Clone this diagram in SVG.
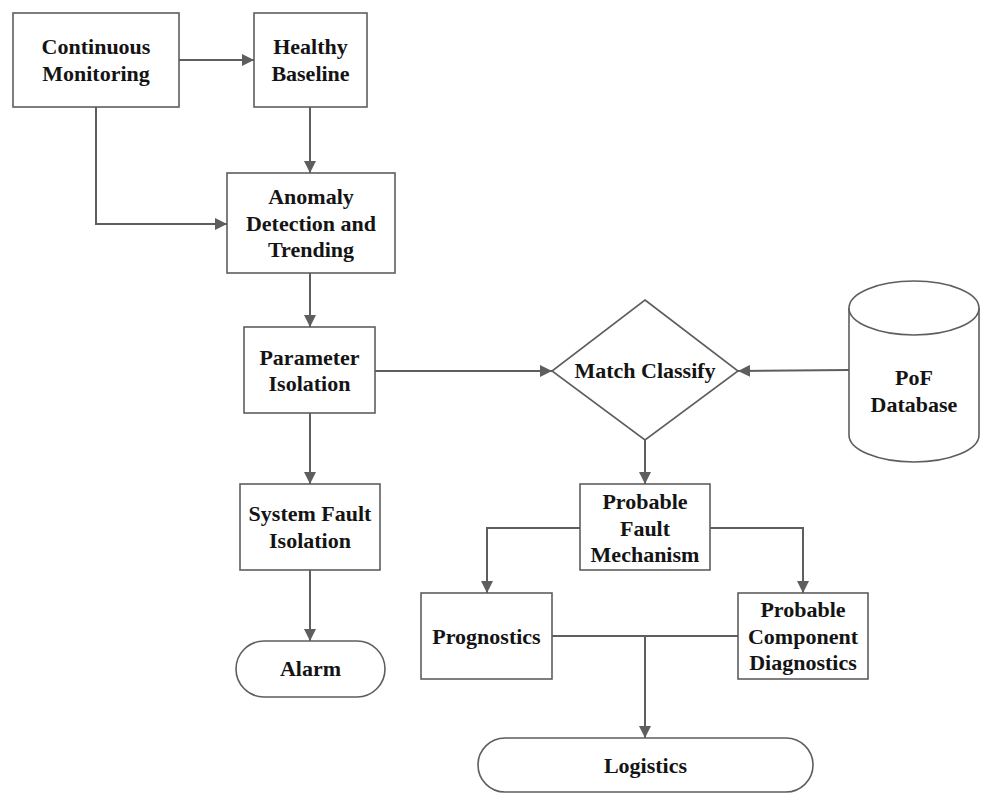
<svg xmlns="http://www.w3.org/2000/svg" width="984" height="794" viewBox="0 0 984 794">
  <style>
    .shape { fill: #ffffff; stroke: #5e5e5e; stroke-width: 1.6; }
    .link { fill: none; stroke: #5e5e5e; stroke-width: 2; }
    .label { font-family: "Liberation Serif", "Times New Roman", serif; font-weight: bold; font-size: 22px; fill: #141414; text-anchor: middle; }
  </style>
  <defs>
    <marker id="arrow" markerUnits="userSpaceOnUse" markerWidth="13" markerHeight="12" refX="12" refY="6" orient="auto">
      <path d="M0,0 L12,6 L0,12 z" fill="#5e5e5e"/>
    </marker>
  </defs>
  <rect width="984" height="794" fill="#ffffff"/>

  <g id="connectors">
    <path class="link" d="M179,60 H254" marker-end="url(#arrow)"/>
    <path class="link" d="M310,107 V173" marker-end="url(#arrow)"/>
    <path class="link" d="M96,107 V224 H227" marker-end="url(#arrow)"/>
    <path class="link" d="M310,273 V327" marker-end="url(#arrow)"/>
    <path class="link" d="M375,371 H552" marker-end="url(#arrow)"/>
    <path class="link" d="M849,370 L738,371" marker-end="url(#arrow)"/>
    <path class="link" d="M310,413 V484" marker-end="url(#arrow)"/>
    <path class="link" d="M310,570 V641" marker-end="url(#arrow)"/>
    <path class="link" d="M645,440 V484" marker-end="url(#arrow)"/>
    <path class="link" d="M580,528 H487 V593" marker-end="url(#arrow)"/>
    <path class="link" d="M710,528 H803 V593" marker-end="url(#arrow)"/>
    <path class="link" d="M552,636 H738"/>
    <path class="link" d="M645,636 V738" marker-end="url(#arrow)"/>
  </g>

  <g id="continuous-monitoring">
    <rect class="shape" x="13" y="13" width="166" height="94"/>
    <text class="label" x="96" y="54">Continuous</text>
    <text class="label" x="96" y="81">Monitoring</text>
  </g>

  <g id="healthy-baseline">
    <rect class="shape" x="254" y="13" width="113" height="94"/>
    <text class="label" x="310.5" y="54">Healthy</text>
    <text class="label" x="310.5" y="81">Baseline</text>
  </g>

  <g id="anomaly-detection">
    <rect class="shape" x="227" y="173" width="168" height="100"/>
    <text class="label" x="311" y="204">Anomaly</text>
    <text class="label" x="311" y="230.5">Detection and</text>
    <text class="label" x="311" y="257">Trending</text>
  </g>

  <g id="parameter-isolation">
    <rect class="shape" x="244" y="327" width="131" height="86"/>
    <text class="label" x="309.5" y="364.5">Parameter</text>
    <text class="label" x="309.5" y="391">Isolation</text>
  </g>

  <g id="match-classify">
    <polygon class="shape" points="645,300 738,371 645,440 552,371"/>
    <text class="label" x="645" y="378">Match Classify</text>
  </g>

  <g id="pof-database">
    <path class="shape" d="M849,308 V435 A65,27 0 0 0 979,435 V308"/>
    <ellipse class="shape" cx="914" cy="308" rx="65" ry="27"/>
    <text class="label" x="914" y="385">PoF</text>
    <text class="label" x="914" y="411.5">Database</text>
  </g>

  <g id="system-fault-isolation">
    <rect class="shape" x="240" y="484" width="140" height="86"/>
    <text class="label" x="310" y="521">System Fault</text>
    <text class="label" x="310" y="547.5">Isolation</text>
  </g>

  <g id="alarm">
    <rect class="shape" x="236" y="641" width="149" height="56" rx="28" ry="28"/>
    <text class="label" x="310.5" y="676">Alarm</text>
  </g>

  <g id="probable-fault-mechanism">
    <rect class="shape" x="580" y="484" width="130" height="86"/>
    <text class="label" x="645" y="509">Probable</text>
    <text class="label" x="645" y="535.5">Fault</text>
    <text class="label" x="645" y="562">Mechanism</text>
  </g>

  <g id="prognostics">
    <rect class="shape" x="421" y="593" width="131" height="86"/>
    <text class="label" x="486.5" y="643.5">Prognostics</text>
  </g>

  <g id="component-diagnostics">
    <rect class="shape" x="738" y="593" width="130" height="86"/>
    <text class="label" x="803" y="617">Probable</text>
    <text class="label" x="803" y="643.5">Component</text>
    <text class="label" x="803" y="670">Diagnostics</text>
  </g>

  <g id="logistics">
    <rect class="shape" x="478" y="738" width="335" height="54" rx="27" ry="27"/>
    <text class="label" x="645.5" y="773">Logistics</text>
  </g>
</svg>
